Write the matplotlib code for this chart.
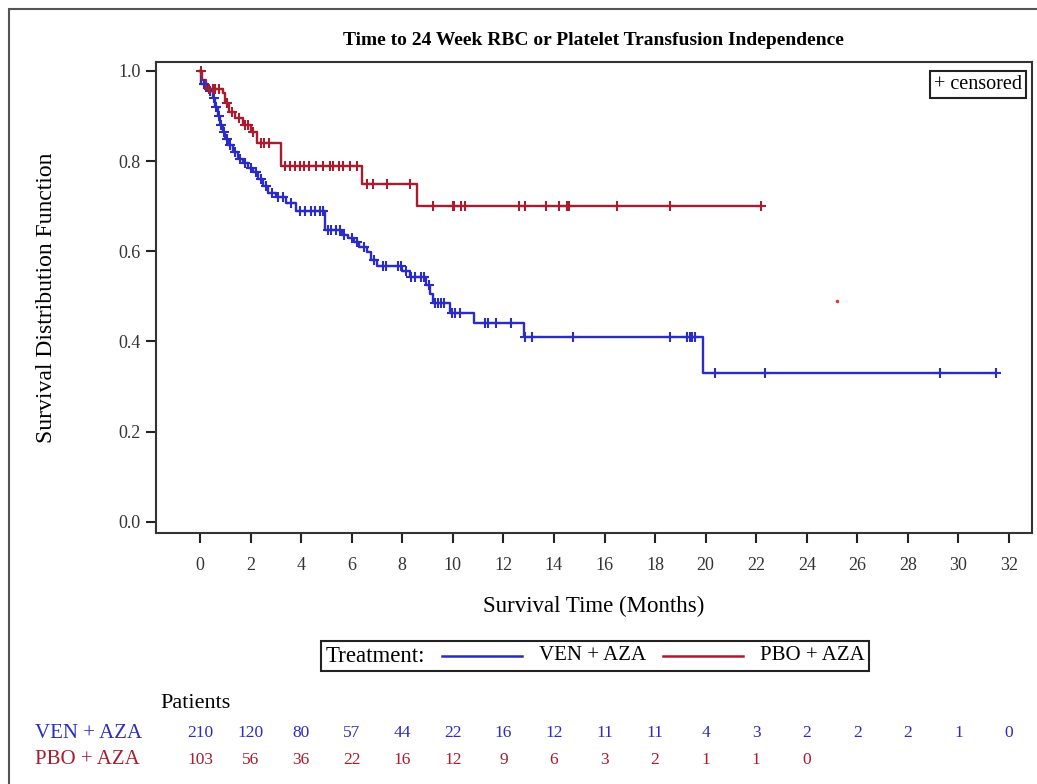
import numpy as np
import matplotlib
matplotlib.use("Agg")
import matplotlib.pyplot as plt
from matplotlib.lines import Line2D
from matplotlib.patches import Rectangle
from matplotlib.offsetbox import AnchoredOffsetbox, HPacker, TextArea, DrawingArea
import matplotlib.transforms as mtransforms

plt.rcParams['font.family'] = ['Liberation Serif', 'DejaVu Serif']

BLUE = '#2b2bc8'
RED = '#a81c2e'

# VEN + AZA: event times (months) and survival after each step
ven_times = [0.0, 0.05, 0.3, 0.5, 0.6, 0.7, 0.8, 0.9, 1.0, 1.1, 1.3, 1.5, 1.7, 1.9, 2.1, 2.3,
             2.5, 2.7, 3.0, 3.4, 3.8, 4.95, 5.6, 5.85, 6.1, 6.3, 6.6, 6.75, 7.0, 8.0, 8.3,
             8.95, 9.1, 9.2, 9.9, 10.85, 12.8, 19.9, 31.5]
ven_surv = [1.0, 0.97, 0.955, 0.94, 0.92, 0.90, 0.88, 0.865, 0.85, 0.835, 0.82, 0.805, 0.795,
            0.785, 0.775, 0.76, 0.745, 0.73, 0.72, 0.707, 0.69, 0.647, 0.637, 0.63, 0.62,
            0.61, 0.598, 0.58, 0.568, 0.556, 0.544, 0.525, 0.505, 0.485, 0.463, 0.44, 0.41,
            0.33, 0.33]
ven_censor = [0.15, 0.4, 0.55, 0.65, 0.75, 0.85, 0.95, 1.05, 1.2, 1.4, 1.6, 1.8, 2.0, 2.2,
              2.4, 2.6, 2.85, 3.1, 3.3, 3.6, 3.95, 4.15, 4.4, 4.55, 4.74, 4.87, 5.07, 5.2,
              5.4, 5.53, 5.7, 6.0, 6.2, 6.5, 6.9, 7.25, 7.35, 7.84, 7.97, 8.15, 8.36, 8.5,
              8.76, 8.85, 9.05, 9.3, 9.4, 9.55, 9.65, 9.95, 10.08, 10.28, 11.26, 11.4,
              11.72, 12.32, 12.85, 13.15, 14.75, 18.58, 19.26, 19.37, 19.47, 19.57, 20.36,
              22.33, 29.25, 31.5]

# PBO + AZA
pbo_times = [0.0, 0.1, 0.25, 0.9, 1.0, 1.15, 1.4, 1.7, 2.0, 2.25, 3.2, 6.4, 8.6, 22.2]
pbo_surv = [1.0, 0.98, 0.96, 0.95, 0.93, 0.91, 0.895, 0.88, 0.865, 0.84, 0.79, 0.75, 0.70, 0.70]
pbo_censor = [0.05, 0.35, 0.5, 0.6, 0.75, 1.05, 1.25, 1.55, 1.8, 1.9, 2.1, 2.4, 2.55, 2.75,
              3.35, 3.55, 3.75, 3.95, 4.1, 4.3, 4.6, 4.87, 5.15, 5.25, 5.5, 5.66, 5.93,
              6.22, 6.6, 6.85, 7.38, 8.3, 9.22, 10.0, 10.05, 10.34, 10.5, 12.6, 12.85,
              13.7, 14.2, 14.5, 14.6, 16.5, 18.6, 22.2]

# numbers at risk
risk_times = list(range(0, 33, 2))
ven_risk = [210, 120, 80, 57, 44, 22, 16, 12, 11, 11, 4, 3, 2, 2, 2, 1, 0]
pbo_risk = [103, 56, 36, 22, 16, 12, 9, 6, 3, 2, 1, 1, 0]

# stray mark in the original
stray_x, stray_y = [25.2], [0.49]


def surv_at(times, surv, t):
    idx = np.searchsorted(times, t, side='right') - 1
    return np.array(surv)[idx]


fig = plt.figure(figsize=(10.37, 7.84), dpi=100)
ax = fig.add_axes([0.1504, 0.320, 0.8446, 0.601])

for times, surv, cens, col in [(ven_times, ven_surv, ven_censor, BLUE),
                               (pbo_times, pbo_surv, pbo_censor, RED)]:
    ax.step(times, surv, where='post', color=col, lw=1.7, zorder=3)
    ax.plot(cens, surv_at(times, surv, cens), ls='none', marker='+', ms=7,
            mew=1.5, color=col, zorder=4)

ax.plot(stray_x, stray_y, ls='none', marker='o', ms=1.5, color='#e03030')

ax.set_xlim(-1.74, 32.9)
ax.set_ylim(-0.025, 1.02)
ax.set_xticks(risk_times)
ax.set_yticks(np.arange(0, 1.01, 0.2))
ax.set_yticklabels([f"{v:.1f}" for v in np.arange(0, 1.01, 0.2)])
ax.tick_params(axis='both', length=7, width=1.5, color='#222', labelsize=13,
               labelcolor='#333')
ax.tick_params(axis='x', pad=10)
ax.tick_params(axis='y', pad=4)
for s in ax.spines.values():
    s.set_linewidth(1.5)
    s.set_color('#333')

ax.set_title("Time to 24 Week RBC or Platelet Transfusion Independence",
             fontsize=14, fontweight='bold', pad=12)
ax.set_xlabel("Survival Time (Months)", fontsize=16.5, labelpad=16)
ax.set_ylabel("Survival Distribution Function", fontsize=17, labelpad=44)

ax.text(0.989, 0.972, "+ censored", transform=ax.transAxes, ha='right', va='top',
        fontsize=14.5, bbox=dict(boxstyle='square,pad=0.2', fc='white', ec='#222', lw=1.5))

# legend row
def line_box(col):
    da = DrawingArea(58, 10, 0, 0)
    da.add_artist(Line2D([0, 58], [5, 5], color=col, lw=1.8))
    return da

packer = HPacker(children=[TextArea("Treatment:", textprops=dict(fontsize=16.5)),
                           line_box(BLUE),
                           TextArea("VEN + AZA", textprops=dict(fontsize=15)),
                           line_box(RED),
                           TextArea("PBO + AZA", textprops=dict(fontsize=15))],
                 align='center', pad=0, sep=12)
anch = AnchoredOffsetbox(loc='center', child=packer, pad=0.35, frameon=True,
                         bbox_to_anchor=(595 / 1037, 1 - 656 / 784),
                         bbox_transform=fig.transFigure, borderpad=0)
anch.patch.set_linewidth(1.5)
anch.patch.set_edgecolor('#222')
fig.add_artist(anch)

# risk table
trans = mtransforms.blended_transform_factory(ax.transData, fig.transFigure)
fig.text(160 / 1037, 1 - 704 / 784, "Patients", fontsize=16, va='center')
fig.text(35 / 1037, 1 - 733 / 784, "VEN + AZA", fontsize=15, va='center', color=BLUE)
fig.text(35 / 1037, 1 - 760 / 784, "PBO + AZA", fontsize=15, va='center', color=RED)
for t, n in zip(risk_times, ven_risk):
    ax.text(t, 1 - 733 / 784, str(n), transform=trans, ha='center', va='center',
            fontsize=12.5, color=BLUE, clip_on=False)
for t, n in zip(risk_times, pbo_risk):
    ax.text(t, 1 - 760 / 784, str(n), transform=trans, ha='center', va='center',
            fontsize=12.5, color=RED, clip_on=False)

# outer frame
fig.add_artist(Rectangle((9 / 1037, -0.1), 1.2, 1.1 - 9 / 784, transform=fig.transFigure,
                         fill=False, ec='#555', lw=1.5))

fig.savefig("out.png", dpi=100)
